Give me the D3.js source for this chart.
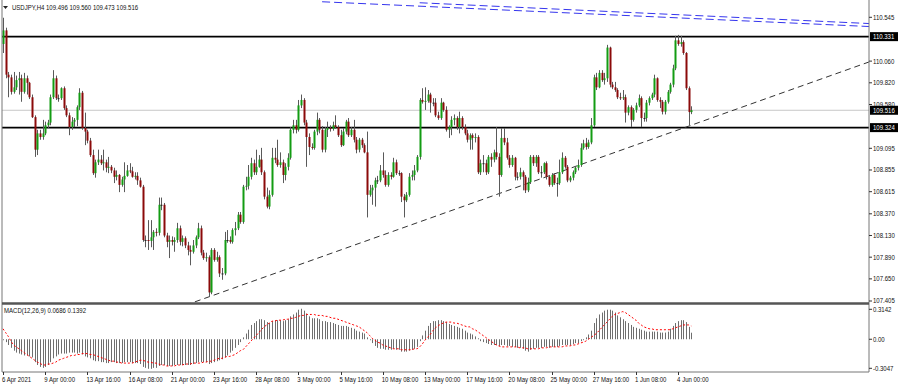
<!DOCTYPE html>
<html>
<head>
<meta charset="utf-8">
<script src="https://cdn.jsdelivr.net/npm/d3@7"></script>
<style>
  body { margin: 0; background: #fff; }
  text { font-family: "Liberation Sans", Arial, sans-serif; }
</style>
</head>
<body>
<script>
// USDJPY H4 candles (open = previous close)
var firstOpen = 110.25;
var closes = [
  110.40,109.91,109.88,109.72,109.77,109.85,109.87,109.72,109.87,109.82,
  109.66,109.44,109.08,109.26,109.22,109.26,109.35,109.38,109.66,109.87,
  109.65,109.65,109.76,109.54,109.46,109.33,109.39,109.41,109.55,109.71,
  109.32,109.28,109.18,109.02,108.82,108.94,108.97,108.93,108.94,108.88,
  108.89,108.85,108.78,108.80,108.69,108.75,108.79,108.85,108.84,108.78,
  108.79,108.74,108.67,108.08,108.08,108.07,108.11,108.17,108.16,108.47,
  108.47,108.13,108.06,108.08,108.06,108.08,108.21,108.06,108.10,108.02,
  107.97,107.95,108.02,108.11,108.21,107.94,107.88,107.89,107.50,107.97,
  107.86,107.89,107.71,107.71,108.08,108.08,108.06,108.19,108.21,108.36,
  108.28,108.67,108.68,108.78,108.93,108.83,108.89,108.97,108.83,108.56,
  108.45,108.58,108.99,108.97,108.91,108.94,108.80,108.89,108.99,109.30,
  109.35,109.30,109.57,109.63,109.38,109.22,109.11,109.10,109.28,109.41,
  109.30,109.08,109.30,109.32,109.31,109.35,109.33,109.24,109.13,109.28,
  109.39,109.24,109.30,109.19,109.08,109.19,109.13,109.05,108.58,108.63,
  108.66,108.74,108.74,108.85,108.80,108.69,108.80,108.78,108.94,108.82,
  108.82,108.56,108.52,108.58,108.78,108.80,108.85,109.00,109.63,109.61,
  109.62,109.69,109.60,109.60,109.46,109.43,109.60,109.52,109.30,109.33,
  109.41,109.43,109.33,109.43,109.33,109.26,109.19,109.24,109.21,109.22,
  108.83,108.93,108.93,108.83,109.00,108.97,109.05,109.00,108.80,109.21,
  109.16,108.99,108.91,108.99,108.78,108.78,108.83,108.78,108.63,108.72,
  109.00,108.93,109.00,108.83,108.83,108.93,108.78,108.69,108.80,108.71,
  108.71,108.83,108.99,108.89,108.74,108.77,108.83,108.88,108.91,109.10,
  109.15,109.11,109.16,109.35,109.88,109.77,109.93,109.85,109.87,110.21,
  109.80,109.77,109.74,109.66,109.65,109.66,109.49,109.55,109.41,109.52,
  109.57,109.65,109.43,109.43,109.60,109.65,109.69,109.87,109.63,109.61,
  109.50,109.61,109.72,109.80,109.98,110.29,110.25,110.27,110.15,109.76,109.496,109.516
];
var highs = [
  110.54,110.43,109.94,109.91,109.94,109.90,109.94,109.91,109.93,109.90,
  109.83,109.69,109.46,109.30,109.30,109.41,109.39,109.41,109.69,109.96,
  109.90,109.69,109.77,109.78,109.57,109.49,109.44,109.43,109.57,109.76,
  109.73,109.49,109.30,109.21,109.08,108.97,109.08,109.02,109.08,108.97,
  109.00,108.91,108.88,108.85,108.81,108.78,108.94,108.91,108.93,108.89,
  108.83,108.83,108.77,108.69,108.13,108.30,108.30,108.19,108.21,108.55,
  108.55,108.49,108.16,108.13,108.12,108.11,108.27,108.24,108.13,108.12,
  108.06,108.02,108.08,108.13,108.27,108.24,107.97,107.94,107.91,107.99,
  107.99,107.95,107.91,107.77,108.17,108.19,108.12,108.21,108.28,108.39,
  108.39,108.69,108.78,108.91,108.99,108.97,109.08,109.02,109.10,108.85,
  108.66,108.63,109.10,109.10,109.19,109.05,108.97,108.93,109.04,109.33,
  109.41,109.41,109.63,109.69,109.65,109.41,109.26,109.15,109.30,109.49,
  109.43,109.34,109.33,109.39,109.35,109.39,109.46,109.35,109.30,109.32,
  109.41,109.43,109.33,109.41,109.22,109.21,109.21,109.15,109.28,108.69,
  108.69,108.77,108.79,108.91,109.05,108.85,108.83,108.83,108.99,108.97,
  108.85,108.83,108.59,108.61,108.82,108.85,108.91,109.02,109.65,109.76,
  109.77,109.74,109.71,109.65,109.65,109.50,109.65,109.61,109.56,109.35,
  109.45,109.47,109.45,109.50,109.45,109.36,109.30,109.26,109.26,109.26,
  109.24,108.97,109.02,108.97,109.02,109.04,109.08,109.33,109.04,109.32,
  109.32,109.21,109.02,109.02,109.00,108.83,108.88,108.85,108.80,108.77,
  109.02,109.02,109.02,109.02,108.90,108.94,108.95,108.80,108.82,108.82,
  108.77,108.97,109.05,109.01,108.91,108.79,108.85,108.90,108.97,109.15,
  109.19,109.21,109.19,109.43,109.91,109.93,109.96,109.96,109.93,110.24,
  110.22,109.83,109.83,109.76,109.71,109.74,109.69,109.57,109.57,109.54,
  109.60,109.69,109.67,109.49,109.63,109.67,109.71,109.91,109.88,109.66,
  109.63,109.63,109.74,109.82,110.02,110.34,110.35,110.34,110.29,110.16,109.78,109.560
];
var lows = [
  110.15,109.87,109.66,109.69,109.70,109.74,109.69,109.61,109.70,109.69,
  109.64,109.43,109.00,109.02,109.19,109.19,109.24,109.32,109.35,109.64,
  109.63,109.61,109.63,109.52,109.44,109.24,109.30,109.33,109.34,109.52,
  109.30,109.13,109.15,109.00,108.80,108.77,108.91,108.91,108.85,108.83,
  108.82,108.82,108.71,108.74,108.61,108.67,108.61,108.78,108.82,108.77,
  108.75,108.69,108.66,108.06,108.00,107.97,108.00,107.97,108.12,108.13,
  108.41,108.11,108.00,107.88,108.02,107.95,108.05,108.02,108.01,107.99,
  107.91,107.80,107.93,107.99,108.09,107.91,107.86,107.84,107.45,107.48,
  107.84,107.84,107.67,107.64,107.69,108.05,108.04,108.04,108.13,108.19,
  108.26,108.26,108.63,108.64,108.75,108.80,108.80,108.88,108.80,108.53,
  108.43,108.42,108.56,108.93,108.89,108.88,108.71,108.74,108.85,108.97,
  109.26,109.26,109.28,109.54,109.35,108.89,109.02,109.08,109.08,109.24,
  109.26,109.05,109.05,109.22,109.28,109.29,109.31,109.22,109.11,109.12,
  109.25,109.22,109.22,109.16,109.04,109.05,109.10,109.04,108.33,108.56,
  108.47,108.45,108.70,108.72,108.77,108.67,108.67,108.75,108.77,108.80,
  108.79,108.50,108.33,108.50,108.56,108.74,108.74,108.83,108.97,109.59,
  109.52,109.60,109.49,109.56,109.44,109.41,109.41,109.50,109.28,109.21,
  109.24,109.35,109.30,109.26,109.30,109.24,109.16,109.08,109.08,109.16,
  108.81,108.80,108.83,108.80,108.81,108.89,108.94,108.97,108.56,108.78,
  109.13,108.97,108.88,108.89,108.74,108.74,108.75,108.63,108.60,108.61,
  108.70,108.90,108.89,108.81,108.77,108.81,108.75,108.67,108.67,108.69,
  108.56,108.69,108.81,108.87,108.72,108.72,108.74,108.81,108.85,108.89,
  109.08,109.08,109.09,109.14,109.33,109.74,109.76,109.83,109.80,109.83,
  109.77,109.75,109.72,109.64,109.63,109.63,109.38,109.46,109.33,109.39,
  109.49,109.55,109.33,109.39,109.39,109.57,109.63,109.66,109.61,109.54,
  109.47,109.47,109.59,109.70,109.77,109.96,110.23,110.22,110.13,109.74,109.35,109.473
];

// MACD(12,26,9): main line (histogram) and signal line
var macdMain = [
  -0.01,-0.03,-0.06,-0.09,-0.12,-0.14,-0.15,-0.16,-0.17,-0.17,
  -0.18,-0.19,-0.24,-0.27,-0.29,-0.30,-0.29,-0.27,-0.24,-0.20,
  -0.18,-0.16,-0.15,-0.15,-0.15,-0.14,-0.14,-0.14,-0.15,-0.14,
  -0.16,-0.18,-0.19,-0.20,-0.22,-0.23,-0.23,-0.24,-0.24,-0.25,
  -0.25,-0.24,-0.24,-0.25,-0.25,-0.25,-0.24,-0.24,-0.24,-0.25,
  -0.25,-0.25,-0.26,-0.29,-0.30,-0.31,-0.31,-0.30,-0.30,-0.28,
  -0.27,-0.27,-0.28,-0.28,-0.28,-0.27,-0.27,-0.27,-0.27,-0.27,
  -0.27,-0.27,-0.26,-0.25,-0.24,-0.24,-0.24,-0.24,-0.26,-0.25,
  -0.24,-0.23,-0.22,-0.21,-0.19,-0.17,-0.14,-0.12,-0.09,-0.06,
  -0.03,0.02,0.06,0.10,0.15,0.17,0.19,0.21,0.21,0.20,
  0.18,0.17,0.19,0.20,0.20,0.20,0.19,0.20,0.21,0.24,
  0.26,0.28,0.31,0.32,0.30,0.27,0.24,0.22,0.22,0.22,
  0.21,0.19,0.19,0.18,0.18,0.17,0.16,0.15,0.14,0.14,
  0.14,0.13,0.12,0.11,0.09,0.08,0.07,0.06,0.02,-0.01,
  -0.04,-0.07,-0.09,-0.10,-0.10,-0.11,-0.11,-0.11,-0.10,-0.11,
  -0.11,-0.13,-0.13,-0.13,-0.12,-0.11,-0.10,-0.08,-0.02,0.04,
  0.09,0.14,0.17,0.19,0.19,0.20,0.20,0.19,0.18,0.16,
  0.15,0.14,0.13,0.12,0.11,0.09,0.07,0.06,0.05,0.03,
  0.01,-0.02,-0.03,-0.04,-0.05,-0.06,-0.06,-0.06,-0.07,-0.06,
  -0.06,-0.07,-0.07,-0.08,-0.08,-0.09,-0.09,-0.10,-0.12,-0.13,
  -0.11,-0.10,-0.09,-0.09,-0.09,-0.08,-0.08,-0.09,-0.08,-0.08,
  -0.08,-0.07,-0.06,-0.06,-0.06,-0.06,-0.05,-0.04,-0.04,-0.02,
  -0.01,0.02,0.05,0.09,0.17,0.22,0.26,0.28,0.30,0.31,
  0.31,0.30,0.28,0.25,0.23,0.21,0.19,0.17,0.15,0.13,
  0.12,0.11,0.10,0.09,0.08,0.08,0.08,0.08,0.08,0.07,
  0.07,0.07,0.08,0.11,0.14,0.17,0.19,0.20,0.20,0.18,0.13,0.0686
];
var macdSignal = [
  0.11,0.07,0.03,-0.02,-0.06,-0.08,-0.10,-0.12,-0.14,-0.16,
  -0.18,-0.20,-0.22,-0.24,-0.25,-0.27,-0.27,-0.26,-0.26,-0.25,
  -0.24,-0.22,-0.21,-0.20,-0.19,-0.18,-0.17,-0.17,-0.16,-0.16,
  -0.15,-0.15,-0.15,-0.16,-0.16,-0.17,-0.18,-0.19,-0.20,-0.21,
  -0.22,-0.23,-0.23,-0.24,-0.24,-0.25,-0.25,-0.25,-0.25,-0.25,
  -0.24,-0.23,-0.22,-0.22,-0.23,-0.24,-0.24,-0.25,-0.25,-0.26,
  -0.27,-0.27,-0.28,-0.28,-0.28,-0.28,-0.27,-0.27,-0.27,-0.26,
  -0.26,-0.26,-0.25,-0.25,-0.25,-0.25,-0.24,-0.24,-0.23,-0.23,
  -0.22,-0.21,-0.20,-0.20,-0.19,-0.18,-0.18,-0.17,-0.16,-0.14,
  -0.12,-0.11,-0.08,-0.05,-0.02,0.01,0.04,0.07,0.10,0.13,
  0.15,0.17,0.19,0.19,0.20,0.20,0.20,0.21,0.21,0.22,
  0.22,0.23,0.24,0.25,0.25,0.26,0.26,0.26,0.26,0.25,
  0.25,0.25,0.24,0.24,0.23,0.22,0.22,0.21,0.20,0.19,
  0.18,0.17,0.16,0.15,0.14,0.13,0.11,0.09,0.07,0.04,
  0.01,-0.01,-0.03,-0.04,-0.06,-0.07,-0.08,-0.09,-0.10,-0.10,
  -0.10,-0.11,-0.11,-0.11,-0.11,-0.11,-0.10,-0.10,-0.08,-0.05,
  -0.01,0.02,0.05,0.09,0.12,0.14,0.16,0.17,0.18,0.18,
  0.18,0.17,0.17,0.16,0.15,0.14,0.13,0.13,0.11,0.10,
  0.08,0.06,0.04,0.02,0.00,-0.02,-0.04,-0.06,-0.07,-0.08,
  -0.08,-0.08,-0.08,-0.08,-0.08,-0.08,-0.09,-0.09,-0.09,-0.10,
  -0.10,-0.10,-0.10,-0.10,-0.09,-0.09,-0.09,-0.08,-0.08,-0.08,
  -0.08,-0.08,-0.08,-0.07,-0.07,-0.07,-0.06,-0.06,-0.05,-0.04,
  -0.03,-0.02,0.00,0.02,0.04,0.06,0.09,0.12,0.15,0.18,
  0.21,0.24,0.26,0.27,0.28,0.29,0.28,0.26,0.24,0.22,
  0.20,0.17,0.15,0.13,0.12,0.11,0.11,0.10,0.10,0.10,
  0.10,0.10,0.10,0.10,0.11,0.12,0.13,0.14,0.15,0.15,0.15,0.1392
];

var priceTicks = [110.545, 110.060, 109.820, 109.580, 109.095, 108.855, 108.615, 108.370, 108.130, 107.890, 107.650, 107.405];
var levels = [110.331, 109.324];
var bid = 109.516;
var macdTicks = [0.3142, 0.00, -0.3047];
var dateLabels = ["6 Apr 2021", "9 Apr 00:00", "13 Apr 16:00", "16 Apr 08:00", "21 Apr 00:00",
  "23 Apr 16:00", "28 Apr 08:00", "3 May 00:00", "5 May 16:00", "10 May 08:00", "13 May 00:00",
  "17 May 16:00", "20 May 08:00", "25 May 00:00", "27 May 16:00", "1 Jun 08:00", "4 Jun 00:00"];
var labelEvery = 16;
// trend line anchors [bar, price]
var trendPts = [[78, 107.45], [259, 109.33]];
// blue rays: start point, then a second point on the ray [bar, price]
var bluePts = [[[121, 110.717], [328.4, 110.443]], [[158, 110.706], [328.4, 110.476]]];

var W = 900, H = 387;
var left = 2, right = 869, mainTop = 0, mainBottom = 303, subTop = 305, subBottom = 372;

var svg = d3.select("body").append("svg")
    .attr("width", W).attr("height", H)
    .style("display", "block");

var x = d3.scaleLinear().domain([0, 261]).range([3, 691.3]);
var y = d3.scaleLinear().domain([107.405, 110.545]).range([301, 17.3]);
var ym = d3.scaleLinear().domain([-0.3047, 0.3142]).range([368.3, 309.3]);

svg.append("clipPath").attr("id", "clipMain")
  .append("rect").attr("x", left).attr("y", mainTop).attr("width", right - left).attr("height", mainBottom - mainTop);
svg.append("clipPath").attr("id", "clipSub")
  .append("rect").attr("x", left).attr("y", subTop).attr("width", right - left).attr("height", subBottom - subTop);

var main = svg.append("g").attr("clip-path", "url(#clipMain)");

// bid line
main.append("line")
  .attr("x1", left).attr("x2", right)
  .attr("y1", y(bid)).attr("y2", y(bid))
  .attr("stroke", "#c8c8c8").attr("stroke-width", 1);

// horizontal levels
levels.forEach(function(v) {
  main.append("line")
    .attr("x1", left).attr("x2", right)
    .attr("y1", y(v)).attr("y2", y(v))
    .attr("stroke", "#000").attr("stroke-width", 1.6);
});

// price at bar i on the line through p0, p1
function lineAt(p, i) {
  var k = (p[1][1] - p[0][1]) / (p[1][0] - p[0][0]);
  return p[0][1] + k * (i - p[0][0]);
}

var i0 = x.invert(left - 5), i1 = x.invert(right + 5);
main.append("line")
  .attr("x1", x(i0)).attr("y1", y(lineAt(trendPts, i0)))
  .attr("x2", x(i1)).attr("y2", y(lineAt(trendPts, i1)))
  .attr("stroke", "#333").attr("stroke-width", 1)
  .attr("stroke-dasharray", "6,4");

bluePts.forEach(function(p) {
  main.append("line")
    .attr("x1", x(p[0][0])).attr("y1", y(p[0][1]))
    .attr("x2", x(i1)).attr("y2", y(lineAt(p, i1)))
    .attr("stroke", "#3535ee").attr("stroke-width", 1)
    .attr("stroke-dasharray", "8,4");
});

// candles
var candles = closes.map(function(c, i) {
  var o = i === 0 ? firstOpen : closes[i - 1];
  return {i: i, o: o, c: c, h: Math.max(highs[i], o, c), l: Math.min(lows[i], o, c)};
});

var cg = main.append("g");
cg.selectAll(".wick").data(candles).enter().append("line")
  .attr("class", "wick")
  .attr("x1", function(d) { return Math.round(x(d.i)) + 0.5; })
  .attr("x2", function(d) { return Math.round(x(d.i)) + 0.5; })
  .attr("y1", function(d) { return y(d.h); })
  .attr("y2", function(d) { return y(d.l); })
  .attr("stroke", "#5a5a5a").attr("stroke-width", 1);

cg.selectAll(".body").data(candles).enter().append("rect")
  .attr("class", "body")
  .attr("x", function(d) { return Math.round(x(d.i)) - 0.5; })
  .attr("width", 2)
  .attr("y", function(d) { return y(Math.max(d.o, d.c)); })
  .attr("height", function(d) { return Math.max(1, Math.abs(y(d.o) - y(d.c))); })
  .attr("fill", function(d) {
    if (Math.abs(d.c - d.o) < 0.005) return "#222";
    return d.c > d.o ? "#139c13" : "#8b0a0a";
  });

// MACD panel
var sub = svg.append("g").attr("clip-path", "url(#clipSub)");
sub.selectAll(".hist").data(macdMain).enter().append("line")
  .attr("class", "hist")
  .attr("x1", function(d, i) { return Math.round(x(i)) + 0.5; })
  .attr("x2", function(d, i) { return Math.round(x(i)) + 0.5; })
  .attr("y1", ym(0))
  .attr("y2", function(d) { return ym(d); })
  .attr("stroke", "#6e6e6e").attr("stroke-width", 1);

sub.append("path")
  .datum(macdSignal)
  .attr("fill", "none")
  .attr("stroke", "#ff0000").attr("stroke-width", 1)
  .attr("stroke-dasharray", "2,2")
  .attr("d", d3.line().x(function(d, i) { return x(i); }).y(function(d) { return ym(d); }));

// frames
var frame = svg.append("g").attr("fill", "none");
frame.append("line").attr("x1", left).attr("x2", left).attr("y1", 0).attr("y2", subBottom)
  .attr("stroke", "#777").attr("stroke-width", 1);
frame.append("line").attr("x1", right).attr("x2", right).attr("y1", 0).attr("y2", subBottom)
  .attr("stroke", "#777").attr("stroke-width", 1);
frame.append("line").attr("x1", left).attr("x2", right).attr("y1", 303.5).attr("y2", 303.5)
  .attr("stroke", "#555").attr("stroke-width", 2.5);
frame.append("line").attr("x1", left).attr("x2", right).attr("y1", subBottom).attr("y2", subBottom)
  .attr("stroke", "#777").attr("stroke-width", 1);

// price axis
var axisG = svg.append("g");
priceTicks.forEach(function(v) {
  axisG.append("line").attr("x1", right).attr("x2", right + 3)
    .attr("y1", y(v)).attr("y2", y(v)).attr("stroke", "#333");
  axisG.append("text").attr("x", right + 4).attr("y", y(v)).attr("dy", "0.35em")
    .attr("font-size", "7px").attr("fill", "#111")
    .text(v.toFixed(3));
});
levels.concat([bid]).forEach(function(v) {
  axisG.append("rect").attr("x", right + 1).attr("y", y(v) - 4.5)
    .attr("width", 28).attr("height", 9).attr("fill", "#000");
  axisG.append("text").attr("x", right + 4).attr("y", y(v)).attr("dy", "0.35em")
    .attr("font-size", "7px").attr("fill", "#fff")
    .text(v.toFixed(3));
});

macdTicks.forEach(function(v) {
  axisG.append("line").attr("x1", right).attr("x2", right + 3)
    .attr("y1", ym(v)).attr("y2", ym(v)).attr("stroke", "#333");
  axisG.append("text").attr("x", right + 4).attr("y", ym(v)).attr("dy", "0.35em")
    .attr("font-size", "7px").attr("fill", "#111")
    .text(v === 0 ? "0.00" : v.toFixed(4));
});

// time axis
dateLabels.forEach(function(s, k) {
  var xi = x(k * labelEvery);
  axisG.append("line").attr("x1", Math.round(xi) + 0.5).attr("x2", Math.round(xi) + 0.5)
    .attr("y1", subBottom).attr("y2", subBottom + 3).attr("stroke", "#333");
  axisG.append("text").attr("x", k === 0 ? 2 : xi - 1).attr("y", 382)
    .attr("font-size", "7px").attr("fill", "#111")
    .text(s);
});

// titles
svg.append("path").attr("d", "M3,6 L8,6 L5.5,9 Z").attr("fill", "#222");
svg.append("text").attr("x", 12).attr("y", 10)
  .attr("font-size", "7px").attr("fill", "#111")
  .text("USDJPY,H4  109.496 109.560 109.473 109.516");
svg.append("text").attr("x", 4).attr("y", 313)
  .attr("font-size", "7px").attr("fill", "#111")
  .text("MACD(12,26,9) 0.0686 0.1392");

// the terminal font is narrower than Liberation Sans: squeeze all text a bit
svg.selectAll("text").each(function() {
  var len = this.getComputedTextLength();
  d3.select(this).attr("textLength", len * 0.86).attr("lengthAdjust", "spacingAndGlyphs");
});
</script>
</body>
</html>
